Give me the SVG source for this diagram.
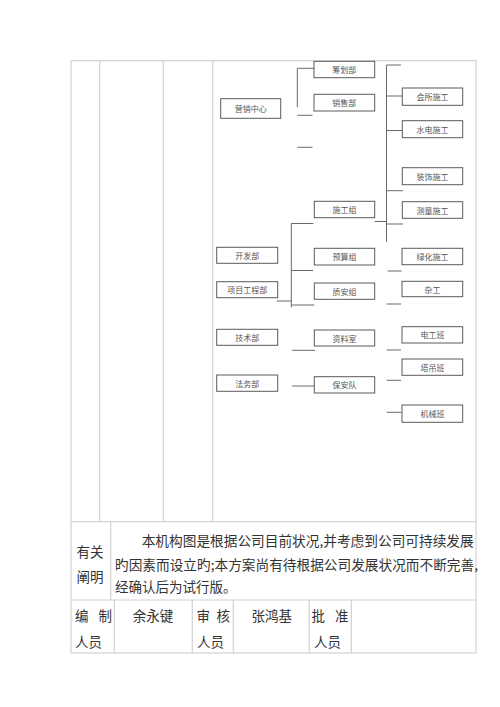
<svg xmlns="http://www.w3.org/2000/svg" width="500" height="707" viewBox="0 0 500 707">
<style>
.tb{stroke:#d2d2d2;stroke-width:1.2;fill:none}
.bx{fill:#fff;stroke:#5a5a5a;stroke-width:1}
.bl{font-family:"Noto Sans CJK SC",sans-serif;font-size:8px;fill:#555;text-anchor:middle;dominant-baseline:central}
.cn{stroke:#6a6a6a;stroke-width:1;fill:none}
.tx{font-family:"Noto Sans CJK SC",sans-serif;font-size:13.5px;fill:#333;dominant-baseline:central}
</style>
<rect width="500" height="707" fill="#fff"/>
<g id="table">
<rect class="tb" x="71" y="60.7" width="405" height="592.3"/>
<line class="tb" x1="99.7" y1="60.7" x2="99.7" y2="521.7"/>
<line class="tb" x1="163.3" y1="60.7" x2="163.3" y2="521.7"/>
<line class="tb" x1="212.7" y1="60.7" x2="212.7" y2="521.7"/>
<line class="tb" x1="71" y1="521.7" x2="476" y2="521.7"/>
<line class="tb" x1="110.7" y1="521.7" x2="110.7" y2="600"/>
<line class="tb" x1="71" y1="600" x2="476" y2="600"/>
<line class="tb" x1="114.3" y1="600" x2="114.3" y2="653"/>
<line class="tb" x1="192.3" y1="600" x2="192.3" y2="653"/>
<line class="tb" x1="233.3" y1="600" x2="233.3" y2="653"/>
<line class="tb" x1="309.3" y1="600" x2="309.3" y2="653"/>
<line class="tb" x1="351.3" y1="600" x2="351.3" y2="653"/>
</g>
<g id="notes">
<text class="tx" x="90" y="551" text-anchor="middle">有关</text>
<text class="tx" x="90" y="576" text-anchor="middle">阐明</text>
<text class="tx" x="141.7" y="540" textLength="332" lengthAdjust="spacingAndGlyphs">本机构图是根据公司目前状况,并考虑到公司可持续发展</text>
<text class="tx" x="115" y="564" textLength="363" lengthAdjust="spacingAndGlyphs">旳因素而设立旳;本方案尚有待根据公司发展状况而不断完善,</text>
<text class="tx" x="115" y="586">经确认后为试行版。</text>
</g>
<g id="signoff">
<text class="tx" x="75" y="615">编</text>
<text class="tx" x="98.5" y="615">制</text>
<text class="tx" x="75" y="641">人员</text>
<text class="tx" x="153" y="615" text-anchor="middle">余永键</text>
<text class="tx" x="196.5" y="615">审</text>
<text class="tx" x="216.5" y="615">核</text>
<text class="tx" x="197" y="641">人员</text>
<text class="tx" x="271.7" y="615" text-anchor="middle">张鸿基</text>
<text class="tx" x="311.5" y="615">批</text>
<text class="tx" x="335" y="615">准</text>
<text class="tx" x="314" y="641">人员</text>
</g>
<g id="connectors">
<polyline class="cn" points="314,68.3 297.3,68.3 297.3,107.3"/>
<line class="cn" x1="297.3" y1="115.3" x2="312.5" y2="115.3"/>
<line class="cn" x1="297.3" y1="147.3" x2="312.5" y2="147.3"/>
<polyline class="cn" points="401,65 386.5,65 386.5,241.7"/>
<line class="cn" x1="386.5" y1="96" x2="402" y2="96"/>
<line class="cn" x1="386.5" y1="130.5" x2="402" y2="130.5"/>
<line class="cn" x1="386.5" y1="190.7" x2="403" y2="190.7"/>
<line class="cn" x1="374.7" y1="221.5" x2="386.5" y2="221.5"/>
<line class="cn" x1="386.5" y1="224" x2="403" y2="224"/>
<polyline class="cn" points="313.3,223.5 291.3,223.5 291.3,307.3"/>
<line class="cn" x1="291.3" y1="270.5" x2="313" y2="270.5"/>
<line class="cn" x1="276.7" y1="301" x2="291.3" y2="301"/>
<line class="cn" x1="291.3" y1="305" x2="314.3" y2="305"/>
<line class="cn" x1="387.7" y1="271" x2="401.7" y2="271"/>
<line class="cn" x1="386.7" y1="304" x2="401" y2="304"/>
<line class="cn" x1="292" y1="350.3" x2="315" y2="350.3"/>
<line class="cn" x1="386.7" y1="350" x2="401" y2="350"/>
<line class="cn" x1="386.7" y1="380.3" x2="401" y2="380.3"/>
<line class="cn" x1="292" y1="386" x2="314.3" y2="386"/>
<line class="cn" x1="386.7" y1="412.3" x2="401.7" y2="412.3"/>
</g>
<g id="n-yingxiao"><rect class="bx" x="220.7" y="98.7" width="60" height="19.6"/><text class="bl" x="250.7" y="108.5">营销中心</text></g>
<g id="n-kaifa"><rect class="bx" x="216.7" y="247.3" width="61" height="16"/><text class="bl" x="247.2" y="255.3">开发部</text></g>
<g id="n-xiangmu"><rect class="bx" x="216.7" y="281.7" width="61" height="16"/><text class="bl" x="247.2" y="289.7">项目工程部</text></g>
<g id="n-jishu"><rect class="bx" x="216.7" y="329.3" width="61" height="16"/><text class="bl" x="247.2" y="337.3">技术部</text></g>
<g id="n-fawu"><rect class="bx" x="216.7" y="375" width="61" height="16.3"/><text class="bl" x="247.2" y="383.2">法务部</text></g>
<g id="n-chouhua"><rect class="bx" x="314" y="61.3" width="60.7" height="16.4"/><text class="bl" x="344.3" y="69.5">筹划部</text></g>
<g id="n-xiaoshou"><rect class="bx" x="314" y="94.3" width="60.7" height="16.7"/><text class="bl" x="344.3" y="102.7">销售部</text></g>
<g id="n-shigongzu"><rect class="bx" x="314.3" y="201.3" width="60.4" height="16.4"/><text class="bl" x="344.5" y="209.5">施工组</text></g>
<g id="n-yusuan"><rect class="bx" x="314.3" y="248.3" width="60.4" height="16.7"/><text class="bl" x="344.5" y="256.7">预算组</text></g>
<g id="n-zhian"><rect class="bx" x="314.3" y="283" width="60.4" height="16.3"/><text class="bl" x="344.5" y="291.2">质安组</text></g>
<g id="n-ziliao"><rect class="bx" x="314.3" y="330" width="60.4" height="16"/><text class="bl" x="344.5" y="338">资料室</text></g>
<g id="n-baoan"><rect class="bx" x="314.3" y="376.7" width="60.4" height="16.3"/><text class="bl" x="344.5" y="384.8">保安队</text></g>
<g id="n-huisuo"><rect class="bx" x="402.3" y="88" width="60.4" height="17.3"/><text class="bl" x="432.5" y="96.7">会所施工</text></g>
<g id="n-shuidian"><rect class="bx" x="402.3" y="120.7" width="60.4" height="17"/><text class="bl" x="432.5" y="129.2">水电施工</text></g>
<g id="n-zhuangshi"><rect class="bx" x="402.3" y="167.7" width="60.4" height="17"/><text class="bl" x="432.5" y="176.2">装饰施工</text></g>
<g id="n-celiang"><rect class="bx" x="402.3" y="201.7" width="60.4" height="16.6"/><text class="bl" x="432.5" y="210">测量施工</text></g>
<g id="n-lvhua"><rect class="bx" x="402" y="248.3" width="60.7" height="16.4"/><text class="bl" x="432.4" y="256.5">绿化施工</text></g>
<g id="n-zagong"><rect class="bx" x="402" y="281.3" width="60.7" height="15.4"/><text class="bl" x="432.4" y="289">杂工</text></g>
<g id="n-diangong"><rect class="bx" x="402" y="326.7" width="60.7" height="16.3"/><text class="bl" x="432.4" y="334.8">电工班</text></g>
<g id="n-tadiao"><rect class="bx" x="402" y="359" width="60.7" height="16.3"/><text class="bl" x="432.4" y="367.2">塔吊班</text></g>
<g id="n-jixie"><rect class="bx" x="402" y="405" width="60.7" height="17.3"/><text class="bl" x="432.4" y="413.7">机械班</text></g>
</svg>
